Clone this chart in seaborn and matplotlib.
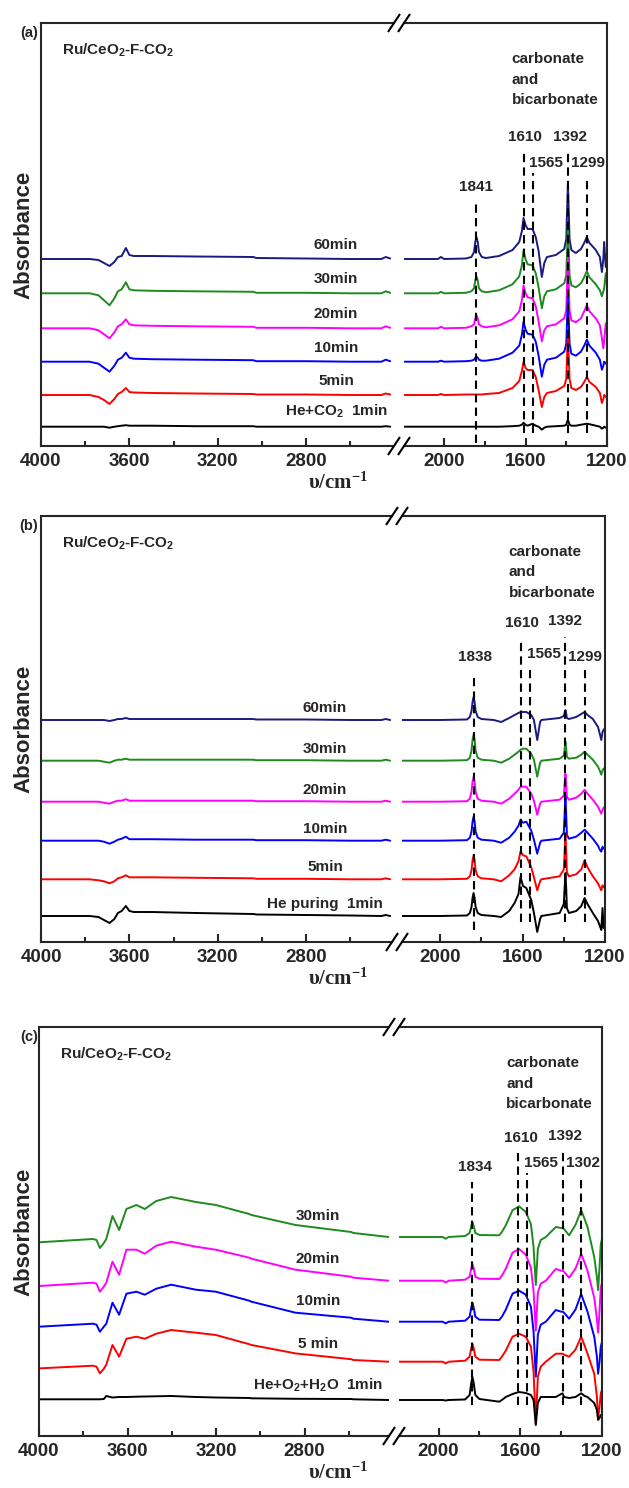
import matplotlib
matplotlib.use('Agg')
import matplotlib.pyplot as plt
from matplotlib.lines import Line2D
import pandas as pd
import seaborn as sns

# ---- data (absorbance in arbitrary units, relative to each trace's own baseline) ----
LEFT_WN_AB = [4000, 3780, 3740, 3715, 3690, 3668, 3652, 3635, 3616, 3600,
              3580, 3500, 3300, 3040, 3025, 2800, 2600, 2460, 2440, 2420]
RIGHT_WN_A = [2195, 2030, 2016, 2000, 1893, 1866, 1853, 1847, 1841, 1835,
              1829, 1815, 1795, 1730, 1664, 1631, 1618, 1610, 1600, 1590,
              1566, 1550, 1536, 1520, 1508, 1495, 1451, 1410, 1400, 1397,
              1392, 1387, 1384, 1375, 1353, 1328, 1312, 1299, 1286, 1255,
              1235, 1225, 1218, 1214, 1206, 1200]
RIGHT_WN_B = [2195, 2000, 1870, 1856, 1848, 1843, 1838, 1833, 1828, 1818,
              1800, 1740, 1704, 1665, 1639, 1620, 1610, 1598, 1582, 1558,
              1545, 1529, 1515, 1509, 1420, 1400, 1396, 1392, 1388, 1385,
              1375, 1340, 1315, 1299, 1285, 1259, 1234, 1225, 1218, 1212,
              1207, 1200]
LEFT_WN_C = [4000, 3756, 3740, 3725, 3707, 3696, 3668, 3638, 3605, 3560,
             3522, 3470, 3403, 3291, 3201, 3050, 3040, 2841, 2590, 2579, 2420]
RIGHT_WN_C = [2195, 1980, 1965, 1950, 1870, 1848, 1840, 1834, 1828, 1820,
              1800, 1703, 1690, 1671, 1638, 1606, 1573, 1548, 1535, 1524,
              1514, 1500, 1475, 1426, 1400, 1393, 1386, 1361, 1330, 1302,
              1285, 1271, 1238, 1225, 1219, 1212, 1206, 1200]

# (a) He+CO2 adsorption
a60_l = [0, 0, -1, -4, -7, -3, 2, 3, 11, 4, 3, 3, 2.5, 2, 1, 0.5, 0, 0, 2, 0.5]
a30_l = [0, 0, -2, -7, -12, -5, 2, 4, 11, 4, 3, 2.5, 2, 1.5, 0.5, 0.5, 0, 0, 2, 0.5]
a20_l = [0, 0, -2, -6, -10, -4, 2, 4, 9, 4, 3, 2.5, 2, 1.5, 0.5, 0.5, 0, 0, 2, 0.5]
a10_l = [0, 0, -2, -6, -10, -4, 2, 4, 9, 4, 3, 2.5, 2, 1.5, 0.5, 0.5, 0, 0, 2, 0.5]
a05_l = [0, 0, -2, -5, -9, -4, 1, 3, 7, 3, 2.5, 2, 1.5, 1, 0.5, 0.5, 0, 0, 1.5, 0.5]
a01_l = [0, 0, 0, 0, -1, 0, 0.5, 1, 1.5, 1, 1, 1, 0.5, 0.5, 0, 0, 0, 0, 0.5, 0]
a60_r = [0, 0, 2, 0, 0.5, 2, 7, 17, 22, 17, 7, 2, 1, 3, 9, 17, 28, 41, 34, 30,
         30, 22, 8, -18, -4, 2, 4, 10, 20, 42, 76, 42, 20, 9, 6, 10, 16, 22, 16, 9,
         2, -13, 0, 17, -8, -5]
a30_r = [0, 0, 1.5, 0, 0.5, 2, 5, 13, 17, 13, 5, 2, 1, 3, 9, 17, 28, 43, 34, 29,
         28, 20, 6, -15, -3, 2, 4, 10, 18, 37, 68, 37, 18, 8, 6, 10, 16, 22, 16, 9,
         3, -3, 2, 5, 20, 8]
a20_r = [0, 0, 1.5, 0, 0.5, 2, 4, 10, 13, 10, 4, 2, 1, 3, 9, 17, 28, 43, 35, 31,
         30, 22, 7, -13, -2, 2, 4, 10, 18, 38, 70, 38, 18, 8, 6, 10, 17, 23, 17, 10,
         3, -10, -20, -12, 5, 0]
a10_r = [0, 0, 1, 0, 0.5, 1, 2, 4, 5, 4, 2, 1, 1, 3, 9, 16, 27, 40, 32, 28,
         27, 20, 6, -15, -3, 2, 4, 10, 18, 36, 65, 36, 18, 8, 6, 10, 16, 22, 16, 9,
         2, -8, -4, 0, -2, 0]
a05_r = [0, 0, 1, 0, 0.5, 0.5, 0.5, 0.5, 0.5, 0.5, 0.5, 0.5, 1, 2, 7, 14, 24, 33, 27, 25,
         25, 18, 5, -12, -2, 2, 4, 9, 16, 34, 62, 34, 16, 7, 5, 8, 13, 18, 13, 8,
         2, -8, -4, 0, -2, 0]
a01_r = [0, 0, 0, 0, 0, 0, 0, 0, 0, 0, 0, 0, 0, 0, 0.5, 1, 2, 4, 2, 1,
         3, 1, 0, -3, -1, 0, 0.5, 1, 2, 4, 7, 4, 2, 1, 1, 2, 2.5, 3, 2.5, 1,
         0, -2, -1, 0, -1, -1]

# (b) He purging
b60_l = [0, 0, 0, 0, -1, 0, 1, 1, 2, 1, 1, 1, 1, 1, 0.5, 0.5, 0, 0, 1, 0]
b30_l = [0, 0, 0, -1, -2, 0, 1, 1, 2, 1, 1, 1, 1, 1, 0.5, 0.5, 0, 0, 1, 0]
b20_l = [0, 0, 0, -1, -2, 0, 1, 1, 2.5, 1, 1, 1, 1, 1, 0.5, 0.5, 0, 0, 1, 0]
b10_l = [0, 0, 0, -1, -3, -1, 1, 2, 4, 1.5, 1.5, 1.5, 1, 1, 0.5, 0.5, 0, 0, 1, 0]
b05_l = [0, 0, -1, -2, -4, -2, 1, 2, 4, 2, 2, 2, 1.5, 1, 0.5, 0.5, 0, 0, 1, 0]
b01_l = [0, 0, -1, -4, -7, -3, 3, 5, 10, 5, 4, 4, 3, 2, 1.5, 1, 0.5, 0, 1, 0]
b60_r = [0, 0, 0.5, 3, 9, 18, 23, 18, 9, 3, 1, 0, -2, 2, 5, 7, 8, 8, 8, 5,
         0, -20, -2, 0, 2, 4, 7, 10, 6, 2, 1, 3, 6, 8, 5, 1, -7, -14, -20, -12,
         -10, -8]
b30_r = [0, 0, 0.5, 3, 10, 21, 26, 21, 10, 3, 1, 0, -2, 2, 6, 9, 11, 12, 12, 7,
         1, -16, -2, 0, 2, 5, 12, 19, 11, 4, 2, 3, 6, 9, 6, 1, -6, -10, -14, -10,
         -8, -7]
b20_r = [0, 0, 0.5, 3, 10, 20, 25, 20, 10, 3, 1, 0, -2, 3, 8, 12, 15, 15, 15, 8,
         1, -13, -2, 0, 2, 6, 17, 28, 16, 5, 2, 4, 8, 12, 8, 2, -5, -9, -12, -8,
         -6, -5]
b10_r = [0, 0, 0.5, 3, 9, 19, 24, 19, 9, 3, 1, 0, -2, 3, 9, 15, 21, 18, 19, 10,
         1, -13, -2, 0, 2, 8, 26, 44, 24, 6, 2, 4, 8, 11, 8, 2, -5, -9, -11, -6,
         -8, -7]
b05_r = [0, 0, 0.5, 3, 9, 19, 24, 19, 9, 3, 1, 0, -2, 4, 10, 18, 28, 24, 23, 12,
         2, -11, -2, 0, 3, 10, 27, 45, 25, 7, 3, 5, 10, 19, 12, 3, -4, -8, -11, -6,
         -8, -7]
b01_r = [0, 0, 0.5, 3, 9, 18, 23, 18, 9, 3, 1, 0, -1, 5, 13, 22, 39, 30, 28, 16,
         3, -16, -3, 0, 3, 12, 28, 43, 26, 8, 3, 5, 10, 18, 12, 3, -5, -10, -14, 8,
         -12, -10]

# (c) He+O2+H2O
c30_l = [-5.3, -2, -3, -11, -6, -2, 21, 7, 28, 32, 28, 36, 40, 35, 32, 23, 22, 12, 5, 4, 0]
c20_l = [-5.3, -2, -3, -11, -6, -2, 19, 6, 31, 31, 27, 35, 39, 34, 31, 23, 22, 11, 4, 3, 0]
c10_l = [-5, -2, -3, -10, -5, -2, 19, 7, 28, 30, 27, 33, 37, 32, 30, 21, 20, 9, 4, 3, 0]
c05_l = [-6.7, -4, -5, -11.7, -7, -3, 16.7, 5, 23, 25, 23, 28, 31.7, 29, 26.7, 17.5, 16.7, 8.3, 2.5, 1.7, 0]
c01_l = [0.7, 0.7, 0.7, 0.7, 1, 4, 2.5, 3, 3, 3.3, 3.5, 3.7, 4, 3, 2.5, 2, 1.7, 1.2, 1, 0.7, 0]
c30_r = [0, 0, -1.7, 0, 1, 4, 11, 15, 11, 4, 2, 1.7, 5, 11.7, 26.7, 30.7, 25, 13, -10, -48,
         -12, -3, 0, 10, 9, 9, 8, 1.7, 12, 26.7, 18, 10, -20, -40, -53, -30, -7, -2]
c20_r = [0, 0, -1.7, 0, 1, 4, 12.5, 16.7, 12.5, 4, 2, 1.7, 5, 12, 28, 31.7, 26, 13, -10, -50,
         -12, -3, 0, 11.7, 10, 10, 9, 3, 12, 26.7, 18, 10, -17, -38, -52, -30, -7, -2]
c10_r = [0, 0, -1.7, 0, 1, 5, 14, 19, 14, 5, 2, 1.7, 5, 12, 28, 31, 27, 15, -10, -55,
         -13, -3, 0, 11.7, 10, 10, 9, 3, 12, 27.7, 18, 10, -15, -35, -52, -40, -25, -20]
c05_r = [0, 0, -1.7, 0, 1, 5, 13.5, 18, 13.5, 5, 2, 1.7, 5, 11, 25, 28, 25, 15, -10, -62,
         -15, -5, 0, 8, 8, 8, 7, 5, 12, 25, 16, 8, -12, -35, -57, -45, -32, -28]
c01_r = [0, 0, -0.5, 0, 0.5, 5, 17, 23, 17, 5, 1, -1.7, 0, 3, 6, 8, 7, 5, 0, -25,
         -3, 3, 3, 3, 6, 6.7, 3, 2, 3, 6.7, 4, 3, -3, -10, -20, -18, -15, -15]

# stacking offsets of each trace
A_OFFSETS = [187, 152.7, 117.7, 84.3, 51, 19.3]
B_OFFSETS = [222, 181.3, 140.3, 101.3, 62.7, 26]
C_OFFSETS = [199, 155.3, 114.3, 74.3, 36]

A_LABELS = ['60min', '30min', '20min', '10min', '5min', 'He+CO$_\\mathsf{2}$  1min']
B_LABELS = ['60min', '30min', '20min', '10min', '5min', 'He puring  1min']
C_LABELS = ['30min', '20min', '10min', '5 min', 'He+O$_\\mathsf{2}$+H$_\\mathsf{2}$O  1min']

A_PEAKS = ['1841', '1610', '1565', '1392', '1299']
B_PEAKS = ['1838', '1610', '1565', '1392', '1299']
C_PEAKS = ['1834', '1610', '1565', '1392', '1302']

COLORS_6 = ['#1a1a80', '#1f8a1f', '#ff00ff', '#0000ff', '#ff0000', '#000000']
COLORS_5 = ['#1f8a1f', '#ff00ff', '#0000ff', '#ff0000', '#000000']

# ---- style ----
sns.set_style('ticks')
plt.rcParams['font.family'] = ['Liberation Sans', 'DejaVu Sans']
plt.rcParams['font.weight'] = 'bold'
plt.rcParams['mathtext.fontset'] = 'custom'
plt.rcParams['mathtext.rm'] = 'Liberation Serif:bold'
plt.rcParams['mathtext.sf'] = 'Liberation Sans:bold'
plt.rcParams['mathtext.bf'] = 'Liberation Sans:bold'
plt.rcParams['mathtext.it'] = 'Liberation Sans:italic:bold'

W, H = 629, 1488
fig = plt.figure(figsize=(W / 100, H / 100), dpi=100)


def to_df(wn, traces, offsets, labels):
    rows = []
    for vals, off, lab in zip(traces, offsets, labels):
        for x, v in zip(wn, vals):
            rows.append({'wavenumber': x, 'absorbance': off + v, 'sample': lab})
    return pd.DataFrame(rows)


def fig_line(xs, ys, **kw):
    fig.add_artist(Line2D([x / W for x in xs], [1 - y / H for y in ys],
                          transform=fig.transFigure, color='black', lw=1.5,
                          solid_capstyle='butt', **kw))


def draw_panel(tag, top, bottom, left, right, brk, s_left, s_right,
               left_wn, left_traces, right_wn, right_traces, offsets,
               labels, colors, label_x, label_dy, peaks, peak_pos, dash_pos):
    h = bottom - top
    lx1, rx0 = brk - 5, brk + 5
    ax_l = fig.add_axes([left / W, 1 - bottom / H, (lx1 - left) / W, h / H])
    ax_r = fig.add_axes([rx0 / W, 1 - bottom / H, (right - rx0) / W, h / H])

    for ax, wn, traces in ((ax_l, left_wn, left_traces), (ax_r, right_wn, right_traces)):
        df = to_df(wn, traces, offsets, labels)
        sns.lineplot(data=df, x='wavenumber', y='absorbance', hue='sample',
                     hue_order=labels, palette=colors, estimator=None, sort=False,
                     legend=False, linewidth=1.4, ax=ax)
        ax.set_ylim(0, h)
        ax.set_yticks([])
        ax.set_xlabel('')
        ax.set_ylabel('')
        ax.tick_params(axis='x', which='both', direction='in', width=1.5,
                       labelsize=13.5, pad=5, top=False)
        ax.tick_params(axis='x', which='major', length=6)
        ax.tick_params(axis='x', which='minor', length=3.5)
        for sp in ax.spines.values():
            sp.set_linewidth(1.5)

    ax_l.set_xlim(4000, 4000 - (lx1 - left) / s_left)
    ax_l.set_xticks([4000, 3600, 3200, 2800])
    ax_l.set_xticks([3800, 3400, 3000, 2600], minor=True)
    ax_l.spines['right'].set_visible(False)
    ax_r.set_xlim(1200 + (right - rx0) / s_right, 1200)
    ax_r.set_xticks([2000, 1600, 1200])
    ax_r.set_xticks([1800, 1400], minor=True)
    ax_r.spines['left'].set_visible(False)

    # trace labels
    for off, lab, dy in zip(offsets, labels, label_dy):
        ax_l.text(label_x, off + dy, lab, ha='center', va='baseline',
                  fontsize=11, fontweight='bold')

    # peak markers
    for txt, (px, pdist), (dx, dtop, dbot) in zip(peaks, peak_pos, dash_pos):
        ax_r.text(px, h - pdist, txt, ha='center', va='center',
                  fontsize=11, fontweight='bold')
        ax_r.vlines(dx, dbot, h - dtop, colors='black', linewidth=1.5,
                    linestyles=(0, (4, 2.5)), zorder=5)
    for i, line in enumerate(['carbonate', 'and', 'bicarbonate']):
        ax_r.text(1668, h - 36 - 20.5 * i, line, ha='left', va='center',
                  fontsize=11, fontweight='bold')

    # axis break marks
    for y in (top, bottom):
        for x in (lx1, rx0):
            fig_line([x - 6, x + 6], [y + 9, y - 9])

    fig.text(29 / W, 1 - (top + 10) / H, tag, ha='center', va='center',
             fontsize=10.5, fontweight='bold')
    fig.text((left + 21) / W, 1 - (top + 32) / H, 'Ru/CeO$_\\mathsf{2}$-F-CO$_\\mathsf{2}$',
             ha='left', va='baseline', fontsize=11, fontweight='bold')
    fig.text(24 / W, 1 - (top + bottom) / 2 / H, 'Absorbance', rotation=90,
             ha='center', va='center', fontsize=16, fontweight='bold')
    fig.text(338 / W, 1 - (bottom + 37) / H, 'υ/cm$^{\\mathrm{-1}}$',
             ha='center', va='center', fontsize=15, fontweight='bold',
             family='Liberation Serif')


draw_panel('(a)', 23, 446, 41, 607, 399, 0.221, 0.2036,
           LEFT_WN_AB, [a60_l, a30_l, a20_l, a10_l, a05_l, a01_l],
           RIGHT_WN_A, [a60_r, a30_r, a20_r, a10_r, a05_r, a01_r],
           A_OFFSETS, A_LABELS, COLORS_6, 2665, [10, 10, 10, 10, 10, 11],
           A_PEAKS,
           [(1841, 164), (1605, 114), (1502, 140), (1384, 114), (1291, 140)],
           [(1841, 180, 3), (1610, 129, 13), (1565, 150, 13), (1392, 129, 13), (1299, 154, 13)])

draw_panel('(b)', 516, 942, 41, 605, 397, 0.221, 0.206,
           LEFT_WN_AB, [b60_l, b30_l, b20_l, b10_l, b05_l, b01_l],
           RIGHT_WN_B, [b60_r, b30_r, b20_r, b10_r, b05_r, b01_r],
           B_OFFSETS, B_LABELS, COLORS_6, 2715, [8, 8, 8, 8, 8, 8],
           B_PEAKS,
           [(1833, 141), (1605, 107), (1498, 138), (1392, 105), (1299, 141)],
           [(1838, 157, 12), (1610, 122, 20), (1565, 151, 20), (1392, 121, 20), (1299, 154, 20)])

draw_panel('(c)', 1027, 1436, 39, 602, 394, 0.2213, 0.2043,
           LEFT_WN_C, [c30_l, c20_l, c10_l, c05_l, c01_l],
           RIGHT_WN_C, [c30_r, c20_r, c10_r, c05_r, c01_r],
           C_OFFSETS, C_LABELS, COLORS_5, 2740, [17, 18, 17, 14, 10],
           C_PEAKS,
           [(1824, 140), (1599, 111), (1501, 136), (1383, 109), (1295, 136)],
           [(1834, 155, 31), (1610, 126, 31), (1565, 146, 31), (1392, 125, 31), (1302, 148, 31)])

fig.savefig('out.png', dpi=100)
